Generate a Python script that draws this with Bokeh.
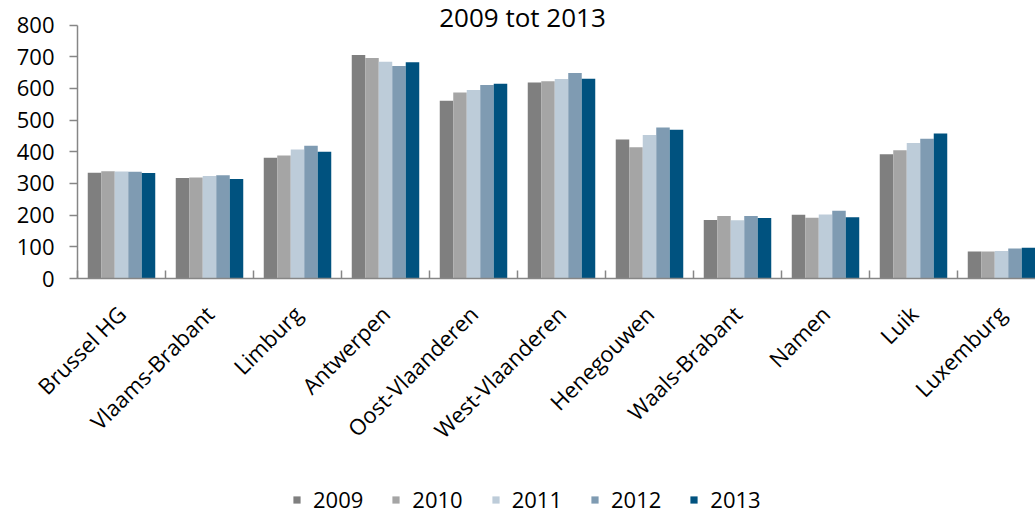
import math
from bokeh.plotting import figure
from bokeh.layouts import column
from bokeh.models import Range1d, FixedTicker, Legend, LegendItem, Label, ColumnDataSource
from bokeh.transform import dodge
from bokeh.embed import file_html
from bokeh.resources import INLINE

categories = ["Brussel HG", "Vlaams-Brabant", "Limburg", "Antwerpen", "Oost-Vlaanderen",
              "West-Vlaanderen", "Henegouwen", "Waals-Brabant", "Namen", "Luik", "Luxemburg"]
years = ["2009", "2010", "2011", "2012", "2013"]
v2009 = [334, 317, 381, 706, 561, 619, 439, 185, 201, 392, 85]
v2010 = [339, 319, 388, 696, 587, 623, 414, 197, 192, 405, 85]
v2011 = [338, 324, 407, 684, 595, 630, 453, 184, 202, 428, 87]
v2012 = [337, 326, 419, 671, 611, 649, 477, 197, 214, 441, 95]
v2013 = [333, 314, 400, 683, 615, 631, 470, 191, 193, 458, 97]
y_ticks = [0, 100, 200, 300, 400, 500, 600, 700, 800]
title_text = "2009 tot 2013"

colors = ["#7f7f7f", "#a5a5a5", "#bdccd9", "#7f9bb2", "#00527f"]
series = [v2009, v2010, v2011, v2012, v2013]

xpos = [i + 0.5 for i in range(len(categories))]
bounds = [float(i) for i in range(len(categories) + 1)]
src = ColumnDataSource(dict(x=xpos, **{y: s for y, s in zip(years, series)}))

FONT = "Open Sans"
GRAY = "#868686"

H1 = 465
p = figure(width=1035, height=H1, output_backend="svg", toolbar_location=None,
           x_range=Range1d(0, 958 / 88), y_range=Range1d(0, 877.7),
           min_border_left=77, min_border_right=0, min_border_top=0,
           min_border_bottom=H1 - 278)
p.outline_line_color = None
p.xgrid.visible = False
p.ygrid.visible = False
p.background_fill_color = "white"
p.border_fill_color = "white"

bw = 0.1534
for k, (yr, col) in enumerate(zip(years, colors)):
    p.vbar(x=dodge("x", (k - 2) * bw, range=p.x_range), top=yr, width=bw,
           source=src, fill_color=col, line_color=None)

# y axis
ya = p.yaxis[0]
ya.ticker = FixedTicker(ticks=y_ticks)
ya.bounds = (0, 800)
ya.axis_line_color = GRAY
ya.axis_line_width = 1.5
ya.major_tick_line_color = GRAY
ya.major_tick_line_width = 1.5
ya.major_tick_out = 8
ya.major_tick_in = 0
ya.minor_tick_line_color = None
ya.major_label_standoff = 15
ya.major_label_text_font = FONT
ya.major_label_text_font_size = "22px"
ya.major_label_text_color = "black"

# x axis
xa = p.xaxis[0]
xa.ticker = FixedTicker(ticks=xpos, minor_ticks=bounds)
xa.major_label_overrides = {x: c for x, c in zip(xpos, categories)}
xa.axis_line_color = GRAY
xa.axis_line_width = 1.5
xa.major_tick_line_color = None
xa.major_tick_out = 6
xa.major_tick_in = 0
xa.minor_tick_line_color = GRAY
xa.minor_tick_line_width = 1.5
xa.minor_tick_in = 8
xa.minor_tick_out = 0
xa.major_label_orientation = math.pi / 4
xa.major_label_standoff = 25
xa.major_label_text_font = FONT
xa.major_label_text_font_size = "22px"
xa.major_label_text_color = "black"

p.add_layout(Label(x=5.057, y=827, text=title_text, text_align="center",
                   text_baseline="alphabetic", text_font=FONT, text_font_size="26px",
                   text_color="black"))

# legend strip below the chart (same data source; bars lie outside its view)
H2 = 515 - H1
p2 = figure(width=1035, height=H2, output_backend="svg", toolbar_location=None,
            x_axis_location=None, y_axis_location=None,
            x_range=Range1d(0, 1035), y_range=Range1d(5000, 5000 + H2),
            min_border_left=0, min_border_right=0, min_border_top=0, min_border_bottom=0)
p2.grid.visible = False
p2.outline_line_color = None
p2.background_fill_color = "white"
p2.border_fill_color = "white"
items = []
for yr, col in zip(years, colors):
    r = p2.vbar(x="x", top=yr, width=1, source=src, fill_color=col, line_color=None)
    items.append(LegendItem(label=yr, renderers=[r]))

legend = Legend(items=items, orientation="horizontal", location=(215, 1),
                glyph_width=9, glyph_height=9, label_standoff=12, spacing=28,
                padding=0, margin=0, border_line_color=None, background_fill_alpha=0,
                label_text_font=FONT, label_text_font_size="22px",
                label_text_color="black")
p2.add_layout(legend)

layout = column(p, p2, spacing=0)
open("out.html", "w").write(file_html(layout, INLINE))
